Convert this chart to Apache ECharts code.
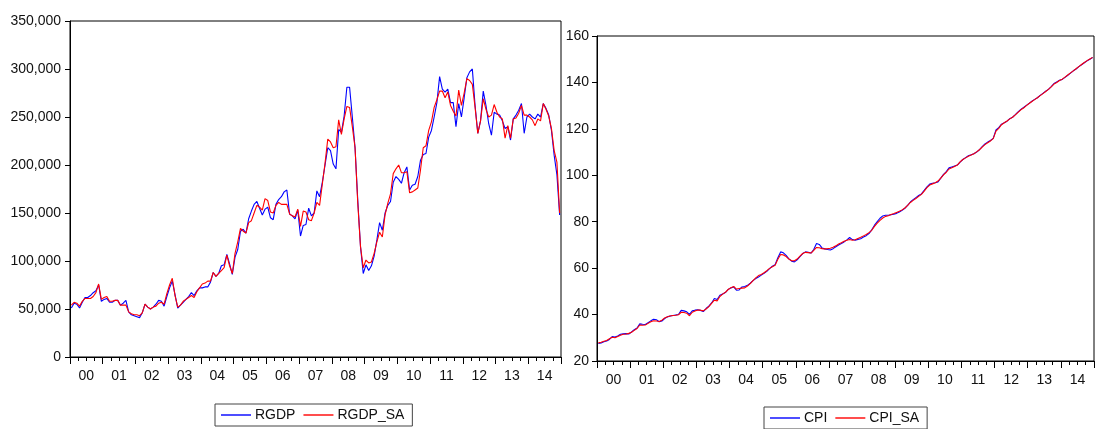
<!DOCTYPE html>
<html>
<head>
<meta charset="utf-8">
<script src="https://cdn.jsdelivr.net/npm/echarts@6/dist/echarts.min.js"></script>
<style>
  html, body { margin: 0; padding: 0; background: #ffffff; }
  #chart { width: 1097px; height: 429px; }
</style>
</head>
<body>
<div id="chart"></div>
<script>
// Monthly series, January 2000 to December 2014 (thousands for RGDP)
const yearLabels = ['00','01','02','03','04','05','06','07','08','09','10','11','12','13','14'];

const rgdp = [
  51, 56, 55, 51, 57, 62, 62, 64, 67, 69, 75, 58,
  60, 61, 57, 57, 59, 59, 54, 56, 59, 47, 44, 43,
  42, 41, 46, 55, 52, 50, 52, 55, 59, 58, 53, 63,
  72, 79, 65, 51, 54, 57, 60, 63, 67, 64, 69, 72,
  72, 73, 73, 78, 88, 84, 87, 95, 96, 107, 97, 86,
  104, 112, 131, 133, 129, 144, 152, 159, 162, 155, 148, 154,
  156, 145, 143, 159, 164, 167, 172, 174, 149, 147, 144, 153,
  126, 137, 138, 155, 147, 150, 173, 167, 182, 200, 218, 215,
  201, 196, 237, 234, 251, 281, 281, 250, 218, 163, 115, 87,
  96, 90, 95, 105, 122, 140, 132, 150, 158, 162, 182, 188,
  185, 181, 192, 198, 174, 179, 180, 188, 205, 211, 212, 229,
  236, 250, 265, 292, 279, 276, 279, 265, 265, 240, 264, 250,
  270, 291, 297, 300, 262, 233, 246, 277, 262, 243, 231, 255,
  253, 252, 246, 238, 240, 226, 248, 252, 257, 264, 233, 250,
  253, 250, 248, 253, 250, 264, 259, 252, 236, 210, 190, 148
];

const rgdpSa = [
  54, 57, 56, 53, 58, 61, 61, 61, 63, 67, 76, 60,
  62, 63, 58, 58, 59, 59, 54, 54, 54, 47, 45, 44,
  44, 43, 46, 55, 52, 50, 52, 53, 56, 57, 55, 66,
  75, 82, 64, 52, 54, 58, 60, 62, 64, 62, 68, 72,
  76, 77, 79, 79, 88, 84, 87, 90, 93, 106, 95, 87,
  108, 120, 134, 131, 129, 140, 142, 150, 158, 156, 153, 165,
  163, 151, 150, 158, 161, 159, 159, 159, 149, 147, 146, 154,
  136, 152, 151, 143, 142, 150, 161, 158, 180, 202, 227, 224,
  218, 219, 247, 232, 248, 261, 260, 240, 218, 160, 115, 93,
  101, 98, 99, 108, 120, 130, 125, 148, 160, 170, 191, 196,
  200, 192, 192, 193, 171, 172, 174, 176, 195, 218, 220, 236,
  245, 260, 268, 277, 277, 270, 276, 262, 256, 251, 278, 262,
  275, 290, 288, 284, 260, 233, 246, 269, 258, 250, 252, 263,
  255, 250, 248, 228, 241, 228, 248, 249, 254, 262, 252, 252,
  250, 247, 241, 248, 246, 264, 258, 251, 238, 215, 203, 150
];

const cpi = [
  27.5, 27.8, 28.3, 28.6, 29.3, 30.5, 30.3, 30.8, 31.5, 31.7, 31.8, 31.6,
  32.5, 33.5, 34.2, 36.0, 35.8, 35.7, 36.5, 37.3, 38.0, 37.8, 36.9, 37.2,
  38.3, 39.0, 39.4, 39.6, 39.8, 40.0, 41.8, 41.6, 41.2, 40.1, 41.6, 41.9,
  42.1, 41.8, 41.3, 42.6, 43.6, 45.0, 46.9, 46.5, 48.3, 48.9, 49.5, 50.8,
  51.5, 51.9, 50.5, 50.6, 51.9, 52.1, 52.6, 53.5, 54.6, 55.5, 56.2, 57.0,
  57.8, 58.6, 59.8, 60.8, 61.5, 64.5, 67.0, 66.6, 65.5, 64.0, 63.0, 62.7,
  63.6, 65.0, 66.3, 67.0, 66.8, 66.5, 68.0, 70.6, 70.2, 68.7, 68.3, 68.0,
  67.8, 68.4, 69.2, 70.0, 70.6, 71.3, 72.2, 73.2, 72.3, 72.0, 72.4, 72.7,
  73.4, 74.0, 74.9, 76.5, 78.5, 80.0, 81.5, 82.5, 82.8, 82.8, 83.0, 83.2,
  83.6, 84.2, 84.9, 85.8, 87.0, 88.5, 89.5, 90.4, 91.3, 92.0, 93.5, 95.0,
  96.2, 96.6, 96.8, 97.1, 98.8, 100.4, 101.6, 103.2, 103.6, 104.0, 104.4, 105.7,
  106.8, 107.6, 108.4, 108.8, 109.3, 110.0, 111.0, 112.3, 113.5, 114.3, 115.0, 115.9,
  119.5, 120.5, 122.0, 122.6, 123.3, 124.4, 125.0, 126.1, 127.3, 128.4, 129.2, 130.1,
  131.0, 131.9, 132.7, 133.4, 134.4, 135.3, 136.2, 137.0, 138.2, 139.5, 140.2, 140.9,
  141.3, 142.2, 143.1, 144.0, 145.0, 145.8, 146.8, 147.6, 148.5, 149.3, 150.0, 150.7
];

const cpiSa = [
  27.8, 28.1, 28.5, 28.8, 29.6, 30.2, 30.0, 30.6, 31.1, 31.5, 31.6, 31.9,
  32.4, 33.2, 34.0, 35.5, 35.4, 35.5, 36.2, 36.9, 37.3, 37.2, 37.0, 37.6,
  38.5, 39.1, 39.4, 39.6, 39.7, 39.9, 41.0, 40.9, 40.6, 39.5, 41.0, 41.5,
  42.0, 41.9, 41.6, 42.4, 43.4, 44.8, 46.2, 45.9, 47.8, 48.8, 49.6, 50.8,
  51.6, 52.1, 51.0, 51.2, 51.4, 51.5, 52.3, 53.3, 54.6, 55.8, 56.8, 57.3,
  58.0, 58.9, 59.9, 60.6, 61.2, 63.8, 65.9, 65.7, 65.0, 63.9, 63.2, 63.2,
  63.9, 65.2, 66.3, 66.8, 66.7, 66.5, 67.7, 68.9, 68.8, 68.4, 68.3, 68.4,
  68.6, 69.0, 69.6, 70.4, 70.9, 71.6, 72.0, 72.3, 72.0, 72.2, 72.8, 73.3,
  73.9, 74.5, 75.3, 76.3, 78.0, 79.4, 80.6, 81.6, 82.3, 82.6, 83.1, 83.5,
  84.0, 84.5, 85.1, 85.9, 87.0, 88.3, 89.2, 90.0, 90.9, 91.8, 93.2, 94.7,
  95.8, 96.3, 96.8, 97.5, 98.8, 100.2, 101.3, 102.7, 103.2, 103.8, 104.4, 105.8,
  106.8, 107.5, 108.2, 108.7, 109.3, 110.1, 111.0, 112.1, 113.2, 114.0, 114.8, 115.8,
  119.0, 120.2, 121.8, 122.6, 123.4, 124.3, 125.0, 126.0, 127.1, 128.2, 129.0, 130.0,
  130.9, 131.8, 132.6, 133.4, 134.3, 135.2, 136.1, 137.0, 138.1, 139.3, 140.0, 140.8,
  141.4, 142.3, 143.2, 144.1, 145.0, 145.9, 146.8, 147.7, 148.6, 149.4, 150.1, 150.8
];

// Month categories: 2000M01 ... 2014M12
const months = [];
for (let y = 2000; y <= 2014; y++) {
  for (let m = 1; m <= 12; m++) months.push(y + 'M' + (m < 10 ? '0' + m : m));
}

const FONT = 'Liberation Sans, Arial, sans-serif';
const BLACK = '#000000';
const TEXT = '#111111';

function commaFmt(v) {
  return String(Math.round(v)).replace(/\B(?=(\d{3})+(?!\d))/g, ',');
}

// Three stacked bottom axes per panel: month categories (for the lines),
// quarterly ticks with year labels at mid-year, and longer year ticks.
function bottomAxes(gridIndex) {
  return [
    {
      type: 'category', gridIndex, data: months, boundaryGap: true,
      axisLine: { show: false }, axisTick: { show: false }, axisLabel: { show: false }
    },
    {
      type: 'value', gridIndex, min: 0, max: 180, interval: 3, position: 'bottom',
      axisLine: { show: true, lineStyle: { color: BLACK, width: 1 } },
      axisTick: { show: true, length: 4, lineStyle: { color: BLACK, width: 1 } },
      splitLine: { show: false },
      axisLabel: {
        show: true, margin: 12, color: TEXT, fontFamily: FONT, fontSize: 14,
        showMinLabel: true, showMaxLabel: true,
        formatter: v => (v % 12 === 6 ? yearLabels[(v - 6) / 12] : '')
      }
    },
    {
      type: 'value', gridIndex, min: 0, max: 180, interval: 12, position: 'bottom',
      axisLine: { show: false },
      axisTick: { show: true, length: 7, lineStyle: { color: BLACK, width: 1 } },
      axisLabel: { show: false }, splitLine: { show: false }
    }
  ];
}

const legendBase = {
  orient: 'horizontal', icon: 'rect', itemWidth: 30, itemHeight: 1.4, itemGap: 8,
  borderColor: '#444', borderWidth: 1, padding: [4, 8, 4, 6],
  textStyle: { color: TEXT, fontFamily: FONT, fontSize: 14, padding: [0, 0, 0, -1] }
};

const chart = echarts.init(document.getElementById('chart'), null, { renderer: 'canvas' });

chart.setOption({
  animation: false,
  backgroundColor: '#ffffff',
  grid: [
    { left: 70, top: 21, width: 491, height: 336, show: true, borderColor: BLACK, borderWidth: 1, backgroundColor: 'transparent' },
    { left: 597, top: 36, width: 501, height: 325, show: true, borderColor: BLACK, borderWidth: 1, backgroundColor: 'transparent' }
  ],
  xAxis: [...bottomAxes(0), ...bottomAxes(1)],
  yAxis: [
    {
      type: 'value', gridIndex: 0, min: 0, max: 350, interval: 50,
      axisLine: { show: true, lineStyle: { color: BLACK } },
      axisTick: { show: true, length: 5, lineStyle: { color: BLACK } },
      splitLine: { show: false },
      axisLabel: { color: TEXT, fontFamily: FONT, fontSize: 14, margin: 9, formatter: v => commaFmt(v * 1000) }
    },
    {
      type: 'value', gridIndex: 1, min: 20, max: 160, interval: 20,
      axisLine: { show: true, lineStyle: { color: BLACK } },
      axisTick: { show: true, length: 5, lineStyle: { color: BLACK } },
      splitLine: { show: false },
      axisLabel: { color: TEXT, fontFamily: FONT, fontSize: 14, margin: 8 }
    }
  ],
  legend: [
    Object.assign({ data: ['RGDP', 'RGDP_SA'], left: 215, top: 404 }, legendBase),
    Object.assign({ data: ['CPI', 'CPI_SA'], left: 764, top: 407 }, legendBase)
  ],
  series: [
    { name: 'RGDP', type: 'line', xAxisIndex: 0, yAxisIndex: 0, data: rgdp, showSymbol: false, symbol: 'none', lineStyle: { color: '#0000ff', width: 1.1 }, itemStyle: { color: '#0000ff' } },
    { name: 'RGDP_SA', type: 'line', xAxisIndex: 0, yAxisIndex: 0, data: rgdpSa, showSymbol: false, symbol: 'none', lineStyle: { color: '#ff0000', width: 1.1 }, itemStyle: { color: '#ff0000' } },
    { name: 'CPI', type: 'line', xAxisIndex: 3, yAxisIndex: 1, data: cpi, showSymbol: false, symbol: 'none', lineStyle: { color: '#0000ff', width: 1.1 }, itemStyle: { color: '#0000ff' } },
    { name: 'CPI_SA', type: 'line', xAxisIndex: 3, yAxisIndex: 1, data: cpiSa, showSymbol: false, symbol: 'none', lineStyle: { color: '#ff0000', width: 1.1 }, itemStyle: { color: '#ff0000' } }
  ]
});
</script>
</body>
</html>
